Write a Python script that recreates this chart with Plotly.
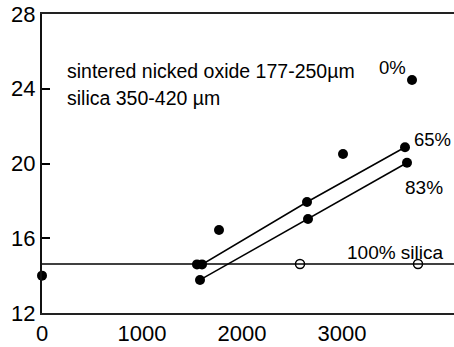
import plotly.graph_objects as go

# Data
x_0pct = [0, 1770, 3010, 3700]
y_0pct = [14.0, 16.44, 20.51, 24.47]

x_65pct = [1550, 1600, 2650, 3630]
y_65pct = [14.6, 14.6, 17.94, 20.87]

x_83pct = [1580, 2660, 3650]
y_83pct = [13.77, 17.03, 20.04]

silica_level = 14.62
x_silica = [2580, 3760]
y_silica = [14.62, 14.62]

y_ticks = [12, 16, 20, 24, 28]
x_ticks = [0, 1000, 2000, 3000]

FONT = "Arial, Liberation Sans, sans-serif"

fig = go.Figure()

fig.add_hline(y=silica_level, line=dict(color="black", width=1.5))

fig.add_trace(go.Scatter(x=x_65pct, y=y_65pct, mode="lines+markers",
                         line=dict(color="black", width=1.5),
                         marker=dict(color="black", size=10),
                         cliponaxis=False, showlegend=False))
fig.add_trace(go.Scatter(x=x_83pct, y=y_83pct, mode="lines+markers",
                         line=dict(color="black", width=1.5),
                         marker=dict(color="black", size=10),
                         cliponaxis=False, showlegend=False))
fig.add_trace(go.Scatter(x=x_0pct, y=y_0pct, mode="markers",
                         marker=dict(color="black", size=10),
                         cliponaxis=False, showlegend=False))
fig.add_trace(go.Scatter(x=x_silica, y=y_silica, mode="markers",
                         marker=dict(color="white", size=9,
                                     line=dict(color="black", width=1.5)),
                         cliponaxis=False, showlegend=False))

annots = [
    ("sintered nicked oxide 177-250µm", 230, 24.95, 19.5),
    ("silica 350-420 µm", 230, 23.5, 19.5),
    ("0%", 3350, 25.16, 18.5),
    ("65%", 3700, 21.26, 18.5),
    ("83%", 3610, 18.69, 19),
    ("100% silica", 3030, 15.26, 19),
]
for text, ax, ay, fs in annots:
    fig.add_annotation(x=ax, y=ay, text=text, showarrow=False,
                       xanchor="left", yanchor="middle",
                       font=dict(family=FONT, size=fs, color="black"))

fig.update_xaxes(range=[0, 4120], tickvals=x_ticks,
                 ticktext=[str(v) for v in x_ticks],
                 showgrid=False, zeroline=False, showline=True,
                 linecolor="#222", linewidth=2, mirror=True, ticks="",
                 automargin=False,
                 tickfont=dict(family=FONT, size=22, color="black"))
fig.update_yaxes(range=[12, 28], tickvals=y_ticks,
                 showgrid=False, zeroline=False, showline=True,
                 linecolor="#111", linewidth=2, ticks="inside",
                 ticklen=8, tickwidth=1.5, tickcolor="black",
                 automargin=False,
                 tickfont=dict(family=FONT, size=22, color="black"))

fig.update_layout(width=454, height=347,
                  margin=dict(l=42, r=0, t=14, b=34),
                  paper_bgcolor="white", plot_bgcolor="white",
                  font=dict(family=FONT))

fig.write_html("out.html", config={"displayModeBar": False},
               post_script="document.body.style.margin='0';document.body.style.overflow='hidden';")
